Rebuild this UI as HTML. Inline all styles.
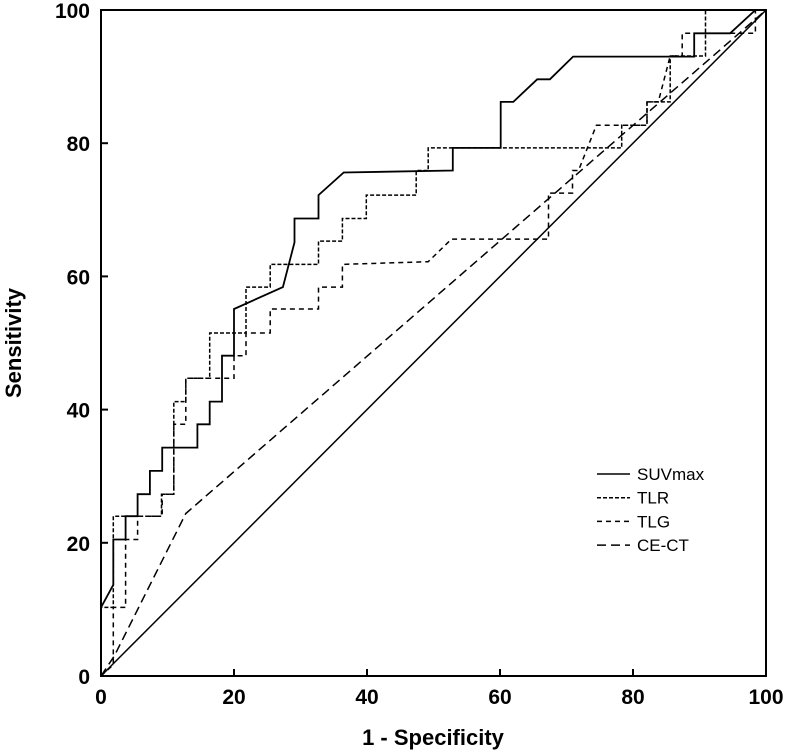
<!DOCTYPE html>
<html><head><meta charset="utf-8"><style>
body{margin:0;background:#fff;}
svg{display:block;font-family:"Liberation Sans",Arial,sans-serif;}
</style></head><body>
<svg id="chart" width="789" height="752" viewBox="0 0 789 752">
<g id="axes"></g>
<g id="series"></g>
<g id="legend"></g>
</svg>
<script>
const xTicks=[0,20,40,60,80,100];
const yTicks=[0,20,40,60,80,100];
const seriesNames=["SUVmax","TLR","TLG","CE-CT"];
const suvX=[0,1.85,1.85,3.7,3.7,5.5,5.5,7.35,7.35,9.2,9.2,14.5,14.5,16.35,16.35,18.2,18.2,20,20,27.35,29.1,29.1,32.7,32.7,36.5,52.9,52.9,60.1,60.1,62,65.6,67.5,71,89.2,89.2,94.6,98.4,100];
const suvY=[10.3,13.7,20.5,20.5,24,24,27.3,27.3,30.8,30.8,34.3,34.3,37.8,37.8,41.2,41.2,48.1,48.1,55.1,58.4,65.1,68.7,68.7,72.2,75.6,75.9,79.3,79.3,86.2,86.2,89.6,89.6,93,93,96.5,96.5,100,100];
const tlrX=[0,0,1.85,1.85,9.1,9.1,10.95,10.95,12.75,12.75,16.35,16.35,21.8,21.8,25.45,25.45,32.7,32.7,36.3,36.3,39.9,39.9,47.4,47.4,49.2,49.2,78.3,78.3,82.1,82.1,85.6,85.6,90.9,90.9,100];
const tlrY=[0,10.3,10.3,24,24,27.3,27.3,41.2,41.2,44.7,44.7,51.5,51.5,58.4,58.4,61.8,61.8,65.3,65.3,68.7,68.7,72.2,72.2,75.9,75.9,79.3,79.3,82.7,82.7,86.2,86.2,93.1,93.1,100,100];
const tlgX=[0,1.85,1.85,3.7,3.7,5.5,5.5,9.2,9.2,10.95,10.95,12.75,12.75,16.35,16.35,20,20,21.8,21.8,25.45,25.45,32.7,32.7,36.3,36.3,49.2,52.7,67.3,67.3,70.9,70.9,71.8,74.5,82.1,82.1,83.8,85.6,87.4,87.4,98.4,98.4,100];
const tlgY=[0,1.7,10.3,10.3,20.5,20.5,24,24,27.3,27.3,37.8,37.8,44.7,44.7,44.7,44.7,48.1,48.1,51.5,51.5,55.1,55.1,58.4,58.4,61.8,62.2,65.6,65.6,72.5,72.5,75.9,75.9,82.7,82.7,86.2,86.2,93.1,93.1,96.5,96.5,100,100];
const cectX=[0,2,12.75,100];
const cectY=[0,3,24.4,100];
const diagX=[0,100];
const diagY=[0,100];

const L=101,R=766,T=10,B=676;
const sx=v=>L+(R-L)*v/100;
const sy=v=>B-(B-T)*v/100;
const NS="http://www.w3.org/2000/svg";
function mk(tag,attrs,parent){const e=document.createElementNS(NS,tag);for(const k in attrs)e.setAttribute(k,attrs[k]);parent.appendChild(e);return e;}
const axes=document.getElementById('axes');
const frame=mk('rect',{x:L,y:T,width:R-L,height:B-T,fill:'none',stroke:'#000','stroke-width':2},axes);


xTicks.forEach(t=>{
  const l=mk('line',{x1:sx(t),x2:sx(t),y1:B,y2:B-7,stroke:'#000','stroke-width':2},axes);
  
  
  const tx=mk('text',{x:sx(t),y:B+28,'text-anchor':'middle','font-size':21,'font-weight':'bold'},axes);
  tx.textContent=t;
  
  
});
yTicks.forEach(t=>{
  const l=mk('line',{x1:L,x2:L+7,y1:sy(t),y2:sy(t),stroke:'#000','stroke-width':2},axes);
  
  
  const tx=mk('text',{x:L-11,y:sy(t)+8,'text-anchor':'end','font-size':21,'font-weight':'bold'},axes);
  tx.textContent=t;
  
  
});
const xt=mk('text',{x:433,y:745,'text-anchor':'middle','font-size':22,'font-weight':'bold'},axes);
xt.textContent='1 - Specificity';


const yt=mk('text',{x:0,y:0,'text-anchor':'middle','font-size':22,'font-weight':'bold',transform:'translate(21,343) rotate(-90)'},axes);
yt.textContent='Sensitivity';



const ser=document.getElementById('series');
function line(xs,ys,dash,name,w){
  const d=xs.map((x,i)=>(i?'L':'M')+sx(x).toFixed(1)+','+sy(ys[i]).toFixed(1)).join('');
  const p=mk('path',{d:d,fill:'none',stroke:'#000','stroke-width':w,'stroke-dasharray':dash},ser);
  
  
}
line(diagX,diagY,'none','reference-diagonal',1.5);
line(cectX,cectY,'9,5','cect-line',1.5);
line(tlgX,tlgY,'5,4','tlg-line',1.5);
line(tlrX,tlrY,'4,2','tlr-line',1.5);
line(suvX,suvY,'none','suvmax-line',1.8);

const leg=document.getElementById('legend');
const dashes=['none','4,2','5,4','9,5'];
seriesNames.forEach((n,i)=>{
  const y=474+i*23.7;
  const l=mk('line',{x1:597,x2:630,y1:y,y2:y,stroke:'#000','stroke-width':1.5,'stroke-dasharray':dashes[i]},leg);
  
  
  const t=mk('text',{x:637,y:y+6,'font-size':17},leg);
  t.textContent=n;
  
  
});
</script>
</body></html>
